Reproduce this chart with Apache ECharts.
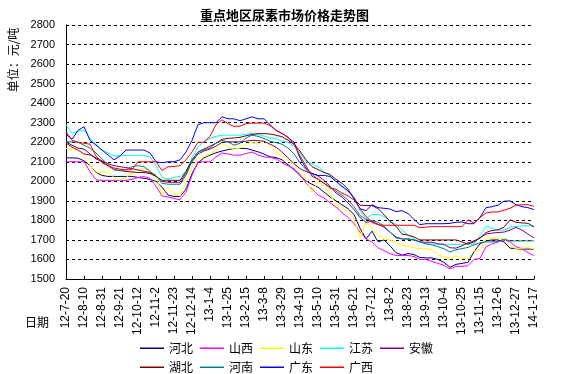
<!DOCTYPE html>
<html><head><meta charset="utf-8">
<script src="https://cdn.jsdelivr.net/npm/echarts@6/dist/echarts.min.js"></script>
<style>html,body{margin:0;padding:0;background:#fff}#c{width:562px;height:374px}</style>
</head><body><div id="c"></div>
<script>
var dates = ['12-7-20','12-7-27','12-8-3','12-8-10','12-8-17','12-8-24','12-8-31','12-9-7','12-9-14','12-9-21','12-9-28','12-10-5','12-10-12','12-10-19','12-10-26','12-11-2','12-11-9','12-11-16','12-11-23','12-11-30','12-12-7','12-12-14','12-12-21','12-12-28','13-1-4','13-1-11','13-1-18','13-1-25','13-2-1','13-2-8','13-2-15','13-2-22','13-3-1','13-3-8','13-3-15','13-3-22','13-3-29','13-4-5','13-4-12','13-4-19','13-4-26','13-5-3','13-5-10','13-5-17','13-5-24','13-5-31','13-6-7','13-6-14','13-6-21','13-6-28','13-7-5','13-7-12','13-7-19','13-7-26','13-8-2','13-8-9','13-8-16','13-8-23','13-8-30','13-9-6','13-9-13','13-9-20','13-9-27','13-10-4','13-10-11','13-10-18','13-10-25','13-11-1','13-11-8','13-11-15','13-11-22','13-11-29','13-12-6','13-12-13','13-12-20','13-12-27','14-1-3','14-1-10','14-1-17'];

var hebei = [2120,2120,2118,2105,2080,2045,2030,2025,2025,2025, 2025,2025,2020,2015,2010,2000,1970,1930,1922,1922, 1960,2040,2095,2120,2134,2146,2155,2162,2168,2168, 2168,2160,2151,2140,2125,2122,2110,2085,2060,2030, 2000,1985,1970,1945,1920,1900,1880,1860,1830,1760, 1705,1745,1690,1700,1670,1635,1622,1630,1625,1610, 1608,1608,1600,1585,1560,1575,1580,1585,1640,1680, 1695,1700,1700,1690,1658,1655,1653,1653,1653];
var shanxi = [2100,2100,2100,2100,2050,2008,2005,2005,2005,2005, 2005,2010,2020,2024,2015,1975,1925,1920,1912,1905, 1945,2030,2100,2100,2100,2125,2145,2140,2134,2134, 2142,2150,2135,2125,2122,2115,2095,2080,2065,2035, 1990,1960,1930,1915,1890,1868,1840,1815,1785,1740, 1705,1690,1660,1645,1630,1620,1620,1620,1615,1600, 1600,1590,1580,1570,1552,1565,1565,1568,1600,1605, 1665,1680,1690,1700,1690,1665,1655,1635,1620];
var shandong = [2168,2165,2160,2125,2080,2040,2050,2045,2020,2005, 2020,2040,2062,2065,2060,2030,1930,1968,1935,1925, 1995,2075,2115,2125,2140,2160,2195,2175,2165,2170, 2190,2200,2190,2208,2180,2150,2130,2105,2085,2050, 2010,1945,2000,1975,1935,1880,1866,1845,1810,1710, 1790,1760,1722,1705,1700,1688,1672,1668,1660,1655, 1655,1650,1625,1612,1607,1620,1605,1605,1645,1650, 1705,1710,1710,1705,1670,1655,1658,1662,1653];
var jiangsu = [2290,2245,2255,2262,2220,2190,2160,2145,2130,2130, 2133,2133,2133,2133,2125,2080,2020,2012,2020,2025, 2050,2120,2175,2205,2220,2230,2236,2236,2236,2236, 2240,2244,2240,2232,2222,2218,2205,2200,2180,2145, 2100,2090,2075,2050,2030,2000,1970,1955,1920,1850, 1810,1830,1830,1820,1795,1780,1750,1725,1705,1690, 1680,1678,1678,1678,1678,1678,1678,1678,1680,1720, 1772,1760,1750,1750,1765,1770,1772,1772,1772];
var anhui = [2195,2175,2160,2140,2135,2120,2105,2090,2080,2075, 2070,2065,2058,2052,2045,2025,2000,1995,1995,1995, 2040,2100,2140,2155,2165,2180,2200,2202,2202,2202, 2205,2210,2208,2205,2190,2175,2150,2120,2090,2065, 2050,2040,2028,2005,1975,1940,1920,1890,1855,1815, 1790,1795,1780,1765,1740,1715,1705,1705,1700,1690, 1688,1688,1680,1677,1660,1658,1670,1685,1695,1710, 1730,1735,1738,1740,1750,1765,1750,1730,1710];
var hubei = [2200,2185,2170,2165,2140,2115,2100,2080,2060,2055, 2050,2048,2045,2045,2040,2025,2005,2005,2005,2005, 2050,2110,2150,2165,2180,2195,2215,2220,2222,2225, 2233,2240,2244,2244,2242,2236,2228,2210,2190,2155, 2110,2075,2060,2045,2035,2010,1990,1960,1910,1878, 1876,1876,1860,1830,1795,1770,1730,1725,1715,1700, 1700,1700,1700,1700,1700,1700,1690,1678,1690,1710, 1738,1748,1752,1765,1803,1790,1787,1785,1766];
var henan = [2202,2202,2200,2185,2170,2145,2115,2085,2060,2055, 2060,2075,2080,2075,2050,2030,1990,1985,1985,1985, 2030,2105,2150,2160,2170,2195,2210,2202,2185,2195, 2222,2236,2230,2220,2205,2198,2190,2170,2140,2095, 2060,2035,2010,1990,1972,1950,1930,1905,1870,1825, 1805,1800,1790,1770,1740,1710,1705,1705,1700,1690, 1680,1675,1665,1655,1638,1650,1655,1662,1675,1685, 1690,1690,1692,1705,1695,1695,1695,1695,1695];
var guangdong = [2240,2215,2260,2280,2210,2185,2160,2135,2110,2130, 2160,2160,2160,2160,2145,2100,2095,2100,2100,2110, 2150,2210,2290,2300,2300,2300,2330,2320,2320,2310, 2320,2330,2320,2320,2290,2260,2245,2225,2200,2120, 2065,2040,2030,2030,2025,2000,1975,1950,1915,1860, 1850,1880,1865,1862,1858,1845,1850,1835,1805,1778, 1783,1783,1783,1783,1785,1790,1792,1783,1783,1815, 1865,1870,1878,1898,1900,1880,1870,1865,1855];
var guangxi = [2255,2210,2200,2195,2190,2130,2095,2080,2068,2062, 2058,2060,2100,2100,2100,2100,2055,2074,2076,2080, 2110,2150,2200,2200,2230,2290,2315,2295,2281,2282, 2295,2298,2298,2298,2285,2262,2245,2225,2190,2130, 2080,2025,2012,1990,1965,1960,1940,1925,1905,1860, 1820,1790,1778,1775,1775,1775,1775,1775,1775,1762, 1766,1768,1768,1768,1768,1768,1768,1802,1786,1815, 1838,1843,1843,1852,1862,1878,1880,1880,1872];

var names = ['河北','山西','山东','江苏','安徽','湖北','河南','广东','广西'];
var colors = ['#000080','#FF00FF','#FFFF00','#00FFFF','#800080','#800000','#008080','#0000FF','#FF0000'];
var values = [hebei, shanxi, shandong, jiangsu, anhui, hubei, henan, guangdong, guangxi];

var series = names.map(function (n, k) {
  return {
    name: n, type: 'line', data: values[k], symbol: 'none', showSymbol: false,
    lineStyle: { color: colors[k], width: 1 }, itemStyle: { color: colors[k] }
  };
});

// thin horizontal bar icon; tiny corner marks keep the 24x12 box so the bar stays thin
var lineIcon = 'path://M0,0h0.01v0.01h-0.01z M0,5.5h24v1.5h-24z M23.99,11.99h0.01v0.01h-0.01z';

var chart = echarts.init(document.getElementById('c'), null, { renderer: 'canvas' });
chart.setOption({
  animation: false,
  backgroundColor: '#fff',
  title: {
    text: '重点地区尿素市场价格走势图', left: 200, top: 9, padding: 0,
    textStyle: { fontSize: 13, fontWeight: 'bold', color: '#000', fontFamily: 'Noto Sans CJK SC' }
  },
  grid: { left: 66, right: 28, top: 25, bottom: 95 },
  legend: {
    left: 140, top: 342, width: 300, itemWidth: 24, itemHeight: 12, itemGap: 7, padding: 0,
    icon: lineIcon,
    textStyle: { fontSize: 12, color: '#000', fontFamily: 'Noto Sans CJK SC' },
    data: names
  },
  xAxis: {
    type: 'category', boundaryGap: false, data: dates,
    axisLine: { lineStyle: { color: '#000', width: 1 } },
    axisTick: { inside: true, interval: 2, length: 3, lineStyle: { color: '#000' } },
    axisLabel: { interval: 2, rotate: 90, margin: 8, fontSize: 12, color: '#000', fontFamily: 'Liberation Sans' },
    splitLine: { show: false }
  },
  yAxis: {
    type: 'value', min: 1500, max: 2800, interval: 100,
    axisLine: { show: true, lineStyle: { color: '#000', width: 1 } },
    axisTick: { show: false },
    splitLine: { lineStyle: { color: '#000', type: [3, 3], width: 1 } },
    axisLabel: { fontSize: 11, color: '#000', margin: 11, fontFamily: 'Liberation Sans',
      formatter: function (v) { return String(v); } }
  },
  graphic: [
    { type: 'text', x: 13, y: 60, rotation: Math.PI / 2,
      style: { text: '单位：元/吨', font: '12px "Noto Sans CJK SC"', fill: '#000', align: 'center', verticalAlign: 'middle' } },
    { type: 'text', x: 37, y: 322,
      style: { text: '日期', font: '12px "Noto Sans CJK SC"', fill: '#000', align: 'center', verticalAlign: 'middle' } }
  ],
  series: series
});
</script>
</body></html>
